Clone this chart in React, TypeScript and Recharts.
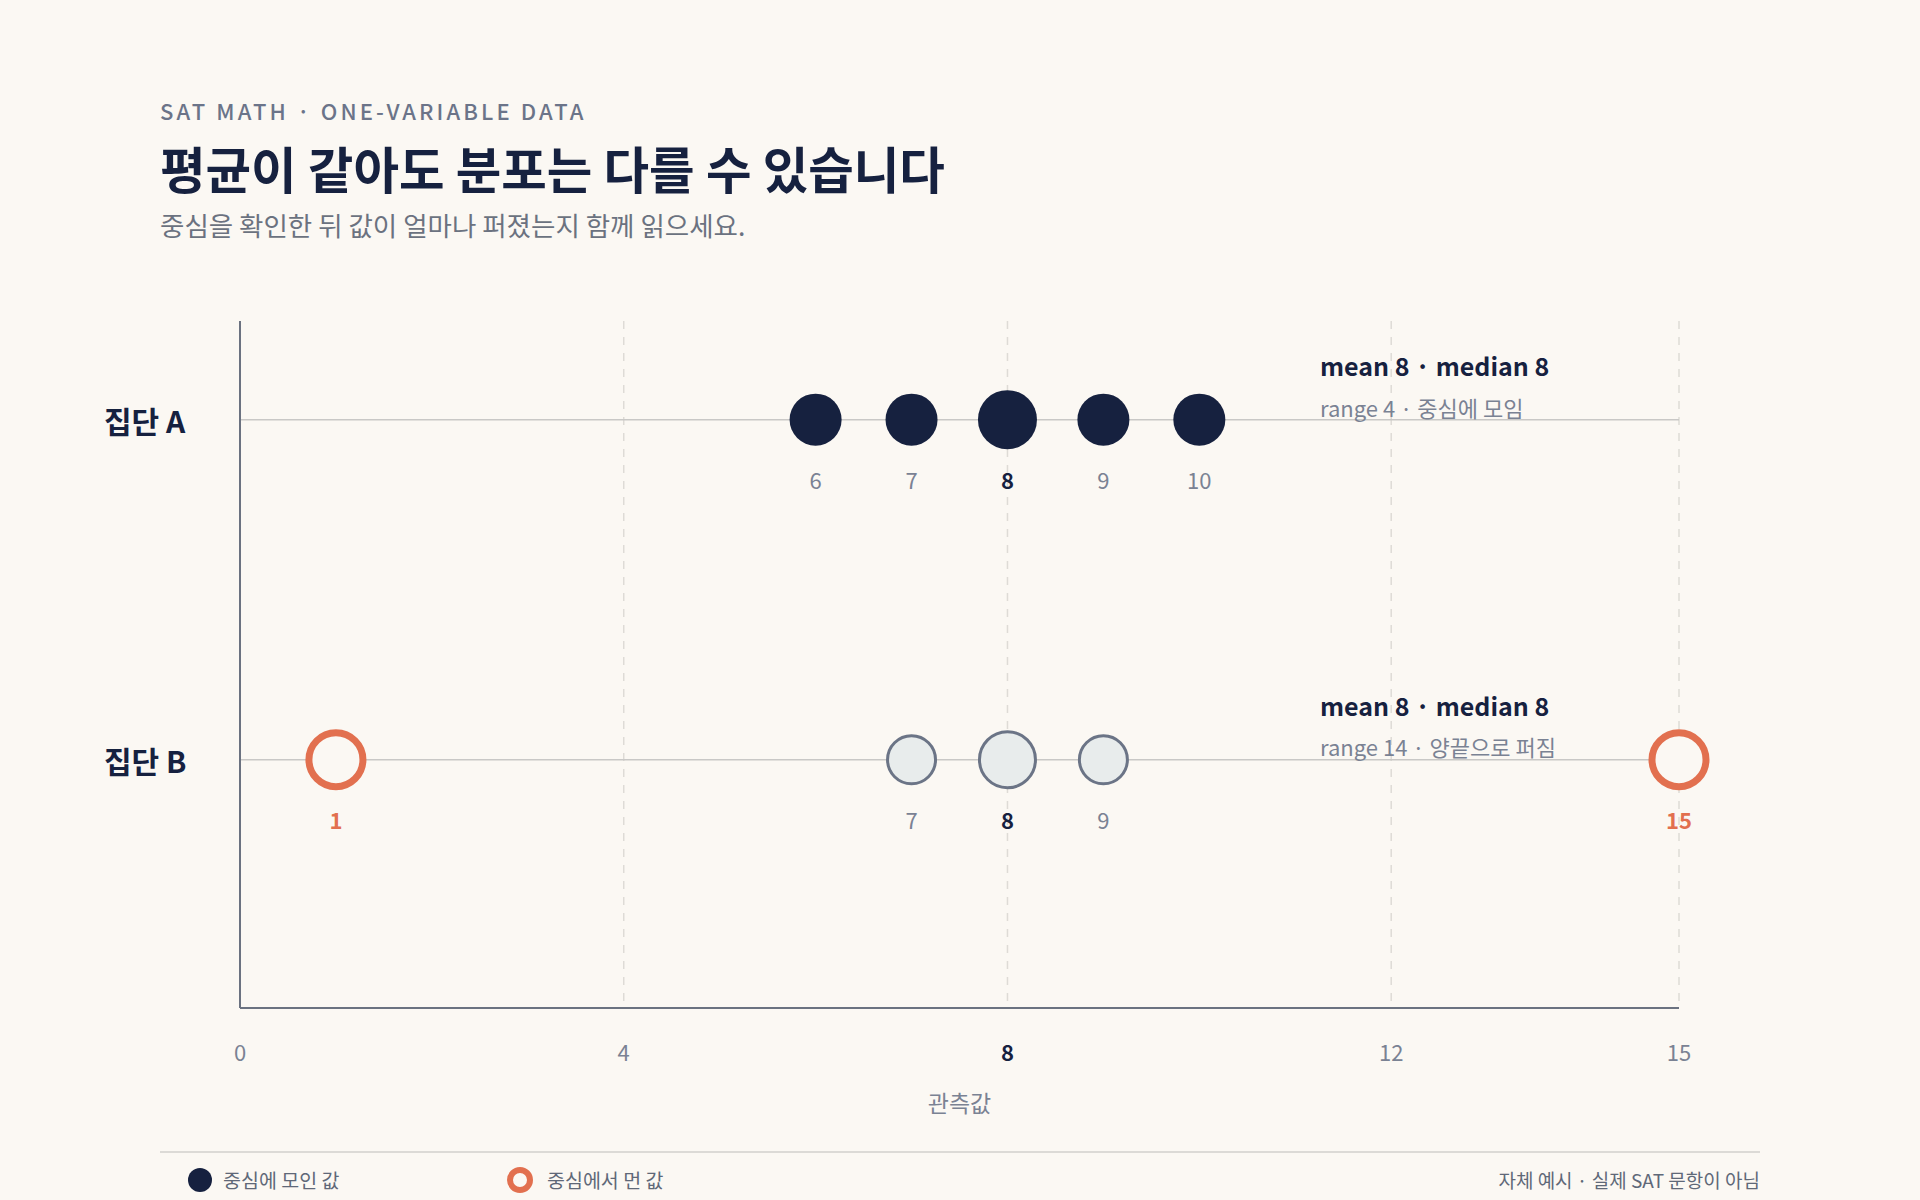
import { ScatterChart, Scatter, XAxis, YAxis, CartesianGrid, ReferenceLine } from "recharts";

const groupNames = ["집단 A", "집단 B"];
const groupRows = [2, 1];
const groupAValues = [6, 7, 8, 9, 10];
const groupBValues = [1, 7, 8, 9, 15];
const outlierValues = [1, 15];
const medianValue = 8;
const xTicks = [0, 4, 8, 12, 15];
const summaryTitles = ["mean 8 · median 8", "mean 8 · median 8"];
const summaryNotes = ["range 4 · 중심에 모임", "range 14 · 양끝으로 퍼짐"];

const BG = "#fbf8f3";
const NAVY = "#16213f";
const SLATE = "#6b7486";
const MUTED = "#7a8293";
const ORANGE = "#e2704f";
const FONT = "'Noto Sans CJK KR', 'Noto Sans', sans-serif";

const dataA = groupAValues.map((v) => ({ x: v, y: groupRows[0], kind: "center" }));
const dataBCore = groupBValues
  .filter((v) => !outlierValues.includes(v))
  .map((v) => ({ x: v, y: groupRows[1], kind: "core" }));
const dataBOut = groupBValues
  .filter((v) => outlierValues.includes(v))
  .map((v) => ({ x: v, y: groupRows[1], kind: "outlier" }));

const DotShape = (props: any) => {
  const { cx, cy, payload } = props;
  const isMedian = payload.x === medianValue;
  let circle;
  let labelColor = MUTED;
  let labelWeight = 400;
  if (payload.kind === "center") {
    circle = <circle cx={cx} cy={cy} r={isMedian ? 29.5 : 26} fill={NAVY} />;
  } else if (payload.kind === "core") {
    circle = <circle cx={cx} cy={cy} r={isMedian ? 28 : 24} fill="#e8ecec" stroke={SLATE} strokeWidth={3} />;
  } else {
    circle = <circle cx={cx} cy={cy} r={27} fill={BG} stroke={ORANGE} strokeWidth={7} />;
    labelColor = ORANGE;
    labelWeight = 700;
  }
  if (isMedian) {
    labelColor = NAVY;
    labelWeight = 700;
  }
  return (
    <g>
      {circle}
      <text x={cx} y={cy + 59} textAnchor="middle" dominantBaseline="central" fontSize={22} fontFamily={FONT} fill={labelColor} fontWeight={labelWeight}>
        {payload.x}
      </text>
    </g>
  );
};

const XTick = (props: any) => {
  const { x, y, payload } = props;
  const bold = payload.value === medianValue;
  return (
    <text x={x} y={y + 43} textAnchor="middle" dominantBaseline="central" fontSize={22} fontFamily={FONT} fill={bold ? NAVY : MUTED} fontWeight={bold ? 700 : 400}>
      {payload.value}
    </text>
  );
};

const YTick = (props: any) => {
  const { y, payload } = props;
  const idx = groupRows.indexOf(payload.value);
  return (
    <text x={104} y={y} textAnchor="start" dominantBaseline="central" fontSize={30} fontFamily={FONT} fill={NAVY} fontWeight={700}>
      {groupNames[idx]}
    </text>
  );
};

const XLabel = (props: any) => {
  const { viewBox } = props;
  return (
    <text x={viewBox.x + viewBox.width / 2} y={viewBox.y + 94} textAnchor="middle" dominantBaseline="central" fontSize={23} fontFamily={FONT} fill={MUTED}>
      관측값
    </text>
  );
};

const abs = (left: number, top: number, extra: any = {}) => ({
  position: "absolute" as const,
  left,
  top,
  fontFamily: FONT,
  lineHeight: 1,
  whiteSpace: "nowrap" as const,
  ...extra,
});

export default function App() {
  return (
    <div style={{ position: "absolute", left: 0, top: 0, width: 1920, height: 1200, background: BG, overflow: "hidden" }}>
      <ScatterChart width={1920} height={1200} margin={{ top: 321, right: 241, bottom: 92, left: 0 }}>
        <CartesianGrid vertical horizontal={false} stroke="#dedbd6" strokeWidth={1.5} strokeDasharray="8 8" />
        <XAxis
          type="number"
          dataKey="x"
          domain={[0, 15]}
          ticks={xTicks}
          height={100}
          tickLine={false}
          tickSize={0}
          tickMargin={0}
          axisLine={{ stroke: "#6b7280", strokeWidth: 2 }}
          tick={<XTick />}
          label={<XLabel />}
          interval={0}
        />
        <YAxis
          type="number"
          dataKey="y"
          domain={[0.27, 2.29]}
          ticks={groupRows}
          width={240}
          tickLine={false}
          axisLine={{ stroke: "#6b7280", strokeWidth: 2 }}
          tick={<YTick />}
        />
        {groupRows.map((r) => (
          <ReferenceLine key={r} y={r} stroke="#c9c8c6" strokeWidth={1.5} />
        ))}
        <Scatter data={dataA} shape={<DotShape />} isAnimationActive={false} />
        <Scatter data={dataBCore} shape={<DotShape />} isAnimationActive={false} />
        <Scatter data={dataBOut} shape={<DotShape />} isAnimationActive={false} />
      </ScatterChart>

      <div style={abs(160, 99, { fontSize: 22, letterSpacing: 3.1, color: "#6b7489", fontWeight: 500 })}>
        SAT MATH · ONE-VARIABLE DATA
      </div>
      <div style={abs(160, 143, { fontSize: 49.5, color: NAVY, fontWeight: 700 })}>평균이 같아도 분포는 다를 수 있습니다</div>
      <div style={abs(160, 212, { fontSize: 26.5, color: "#6b7280", fontWeight: 400 })}>
        중심을 확인한 뒤 값이 얼마나 퍼졌는지 함께 읽으세요.
      </div>

      {summaryTitles.map((t, i) => (
        <div key={"t" + i}>
          <div style={abs(1320, (i === 0 ? 365 : 705) - 12.5, { fontSize: 25, color: NAVY, fontWeight: 700 })}>{t}</div>
          <div style={abs(1320, (i === 0 ? 407 : 746) - 11, { fontSize: 22, color: MUTED, fontWeight: 400 })}>
            {summaryNotes[i]}
          </div>
        </div>
      ))}

      <div style={{ position: "absolute", left: 160, top: 1151, width: 1600, height: 2, background: "#dcdad6" }} />
      <svg style={{ position: "absolute", left: 0, top: 1160 }} width={600} height={40}>
        <circle cx={200} cy={20} r={12} fill={NAVY} />
        <circle cx={520} cy={20} r={10} fill={BG} stroke={ORANGE} strokeWidth={6} />
      </svg>
      <div style={abs(223, 1170, { fontSize: 19.5, color: "#5f6878" })}>중심에 모인 값</div>
      <div style={abs(547, 1170, { fontSize: 19.5, color: "#5f6878" })}>중심에서 먼 값</div>
      <div style={abs(0, 1170, { fontSize: 19, color: "#5f6878", left: "auto", right: 160 })}>자체 예시 · 실제 SAT 문항이 아님</div>
    </div>
  );
}
